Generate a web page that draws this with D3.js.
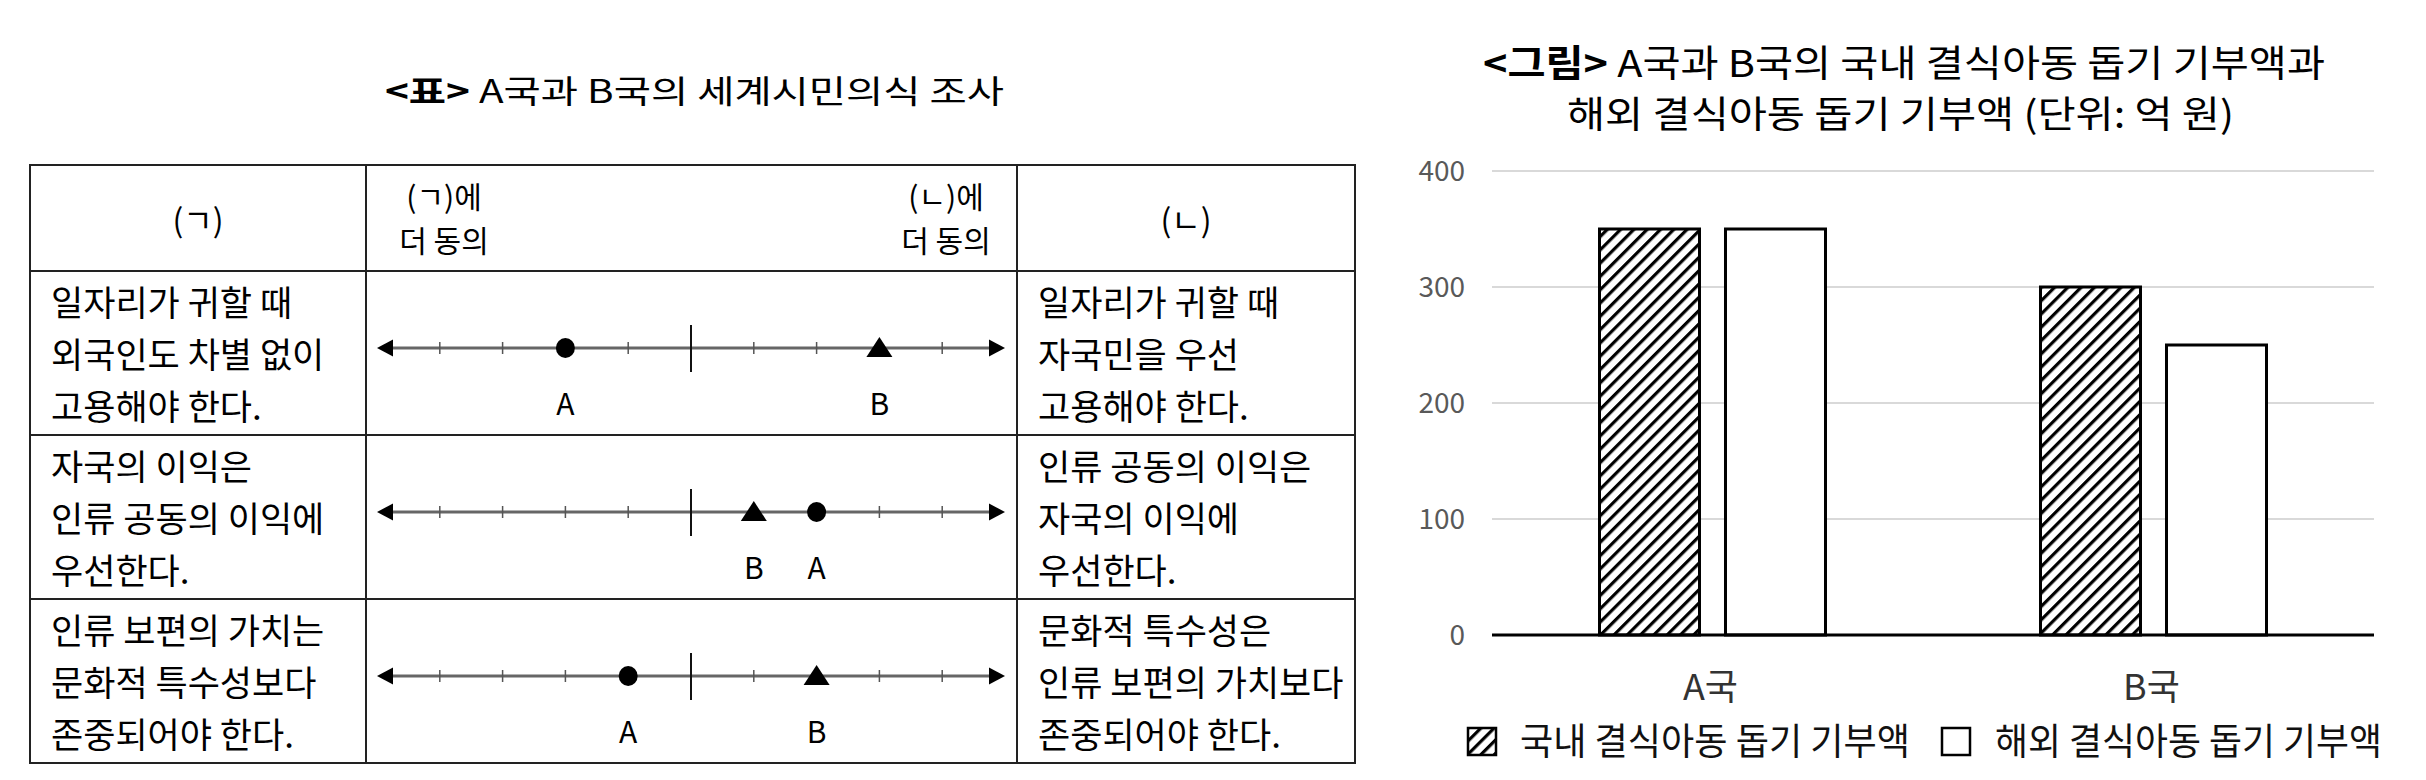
<!DOCTYPE html>
<html>
<head>
<meta charset="utf-8">
<script src="https://cdn.jsdelivr.net/npm/d3@7"></script>
<style>
  html, body { margin: 0; padding: 0; background: #fff; }
  svg { display: block; }
  text { font-family: "Noto Sans CJK KR", "Noto Sans", sans-serif; }
</style>
</head>
<body>
<svg id="chart" width="2426" height="780"></svg>
<script>
// ---------------- DATA ----------------
// Table (left)
const leftStatements = [
  ["일자리가 귀할 때", "외국인도 차별 없이", "고용해야 한다."],
  ["자국의 이익은", "인류 공동의 이익에", "우선한다."],
  ["인류 보편의 가치는", "문화적 특수성보다", "존중되어야 한다."]
];
const rightStatements = [
  ["일자리가 귀할 때", "자국민을 우선", "고용해야 한다."],
  ["인류 공동의 이익은", "자국의 이익에", "우선한다."],
  ["문화적 특수성은", "인류 보편의 가치보다", "존중되어야 한다."]
];
const posA = [-2, 2, -1];   // circle (A국)
const posB = [3, 1, 2];     // triangle (B국)
const scaleTicks = [-4, -3, -2, -1, 1, 2, 3, 4];

// Bar chart (right)
const countries = ["A국", "B국"];
const seriesNames = ["국내 결식아동 돕기 기부액", "해외 결식아동 돕기 기부액"];
const domestic = [350, 300];
const overseas = [350, 250];
const yTicks = [0, 100, 200, 300, 400];

// ---------------- DRAW ----------------
const svg = d3.select("#chart");

// ===== LEFT: table =====
const title1 = svg.append("text")
  .attr("x", 385).attr("y", 103)
  .attr("font-size", 32).attr("fill", "#000")
  .attr("textLength", 619).attr("lengthAdjust", "spacingAndGlyphs");
title1.append("tspan").attr("font-weight", "bold").text("<표>");
title1.append("tspan").text(" A국과  B국의  세계시민의식  조사");

const tbl = { left: 30, right: 1355, top: 165, headBottom: 271, c1: 366, c2: 1017 };
const rowTops = [271, 435, 599];
const rowH = 164;
const tblBottom = rowTops[2] + rowH;

const g = svg.append("g").attr("stroke", "#222").attr("stroke-width", 2);
[tbl.top, tbl.headBottom, rowTops[1], rowTops[2], tblBottom].forEach(y => {
  g.append("line").attr("x1", tbl.left - 1).attr("x2", tbl.right + 1).attr("y1", y).attr("y2", y);
});
[tbl.left, tbl.c1, tbl.c2, tbl.right].forEach(x => {
  g.append("line").attr("x1", x).attr("x2", x).attr("y1", tbl.top).attr("y2", tblBottom);
});

// header texts
const hdr = svg.append("g").attr("fill", "#000").attr("text-anchor", "middle");
hdr.append("text").attr("font-size", 32).attr("x", (tbl.left + tbl.c1) / 2).attr("y", 232).text("(ㄱ)");
hdr.append("text").attr("font-size", 32).attr("x", (tbl.c2 + tbl.right) / 2).attr("y", 232).text("(ㄴ)");
[[444, "(ㄱ)에"], [946, "(ㄴ)에"]].forEach(([cx, first]) => {
  hdr.append("text").attr("font-size", 30).attr("x", cx).attr("y", 208).text(first);
  hdr.append("text").attr("font-size", 30).attr("x", cx).attr("y", 252).text("더 동의");
});

// statements
const lineOffsets = [45, 97, 149];
rowTops.forEach((top, i) => {
  [[51, leftStatements[i]], [1038, rightStatements[i]]].forEach(([tx, lines]) => {
    const t = svg.append("text").attr("font-size", 35).attr("fill", "#000");
    lines.forEach((s, j) => {
      t.append("tspan").attr("x", tx).attr("y", top + lineOffsets[j]).text(s);
    });
  });
});

// number lines
const xNL = d3.scaleLinear().domain([-5, 5]).range([377, 1005]);
rowTops.forEach((top, i) => {
  const yL = top + 77;
  const nl = svg.append("g");
  nl.append("line").attr("x1", xNL(-5) + 8).attr("x2", xNL(5) - 8)
    .attr("y1", yL).attr("y2", yL).attr("stroke", "#666").attr("stroke-width", 3);
  nl.append("path").attr("fill", "#000")
    .attr("d", `M${xNL(-5)},${yL} L${xNL(-5) + 16},${yL - 8.5} L${xNL(-5) + 16},${yL + 8.5} Z`);
  nl.append("path").attr("fill", "#000")
    .attr("d", `M${xNL(5)},${yL} L${xNL(5) - 16},${yL - 8.5} L${xNL(5) - 16},${yL + 8.5} Z`);
  scaleTicks.forEach(t => {
    nl.append("line").attr("x1", xNL(t)).attr("x2", xNL(t))
      .attr("y1", yL - 6).attr("y2", yL + 6).attr("stroke", "#555").attr("stroke-width", 1.5);
  });
  nl.append("line").attr("x1", xNL(0)).attr("x2", xNL(0))
    .attr("y1", yL - 23).attr("y2", yL + 24).attr("stroke", "#111").attr("stroke-width", 2);
  const xa = xNL(posA[i]), xb = xNL(posB[i]);
  nl.append("ellipse").attr("cx", xa).attr("cy", yL).attr("rx", 9.5).attr("ry", 10).attr("fill", "#000");
  nl.append("path").attr("fill", "#000")
    .attr("d", `M${xb},${yL - 11} L${xb + 13},${yL + 9} L${xb - 13},${yL + 9} Z`);
  nl.append("text").attr("x", xa).attr("y", yL + 67).attr("text-anchor", "middle")
    .attr("font-size", 30).attr("fill", "#000").text("A");
  nl.append("text").attr("x", xb).attr("y", yL + 67).attr("text-anchor", "middle")
    .attr("font-size", 30).attr("fill", "#000").text("B");
});

// ===== RIGHT: bar chart =====
const t2a = svg.append("text").attr("x", 1483).attr("y", 77)
  .attr("font-size", 37).attr("fill", "#000")
  .attr("textLength", 842).attr("lengthAdjust", "spacingAndGlyphs");
t2a.append("tspan").attr("font-weight", "bold").text("<그림>");
t2a.append("tspan").text(" A국과  B국의  국내  결식아동  돕기  기부액과");
svg.append("text").attr("x", 1567).attr("y", 128)
  .attr("font-size", 37).attr("fill", "#000")
  .attr("textLength", 667).attr("lengthAdjust", "spacingAndGlyphs")
  .text("해외  결식아동  돕기  기부액  (단위:  억  원)");

// hatch pattern
const defs = svg.append("defs");
const pat = defs.append("pattern").attr("id", "hatch")
  .attr("patternUnits", "userSpaceOnUse").attr("width", 9.4).attr("height", 9.4)
  .attr("patternTransform", "rotate(45)");
pat.append("rect").attr("width", 9.4).attr("height", 9.4).attr("fill", "#fff");
pat.append("rect").attr("x", 0).attr("y", 0).attr("width", 3.2).attr("height", 9.4).attr("fill", "#000");

const plot = { left: 1492, right: 2374, top: 171, bottom: 635 };
const y = d3.scaleLinear().domain([0, 400]).range([plot.bottom, plot.top]);
const x0 = d3.scaleBand().domain(countries).range([plot.left, plot.right]);
const groupW = 226;
const x1 = d3.scaleBand().domain(seriesNames).range([0, groupW]).paddingInner(0.2063);

svg.append("g").selectAll("line").data(yTicks.filter(d => d > 0)).join("line")
  .attr("x1", plot.left).attr("x2", plot.right)
  .attr("y1", d => y(d)).attr("y2", d => y(d))
  .attr("stroke", "#d9d9d9").attr("stroke-width", 2);

svg.append("g").selectAll("text").data(yTicks).join("text")
  .attr("x", 1465).attr("y", d => y(d)).attr("dy", "0.36em")
  .attr("text-anchor", "end").attr("font-size", 28).attr("fill", "#595959")
  .text(d => d);

const barData = [];
countries.forEach((c, i) => {
  barData.push({ c, s: seriesNames[0], v: domestic[i] });
  barData.push({ c, s: seriesNames[1], v: overseas[i] });
});
svg.append("g").selectAll("rect").data(barData).join("rect")
  .attr("x", d => x0(d.c) + (x0.bandwidth() - groupW) / 2 + x1(d.s))
  .attr("y", d => y(d.v))
  .attr("width", x1.bandwidth())
  .attr("height", d => y(0) - y(d.v))
  .attr("fill", d => d.s === seriesNames[0] ? "url(#hatch)" : "#fff")
  .attr("stroke", "#000").attr("stroke-width", 3);

svg.append("line").attr("x1", plot.left).attr("x2", plot.right)
  .attr("y1", y(0)).attr("y2", y(0)).attr("stroke", "#000").attr("stroke-width", 3);

svg.append("g").selectAll("text").data(countries).join("text")
  .attr("x", d => x0(d) + x0.bandwidth() / 2 - 2).attr("y", 700)
  .attr("text-anchor", "middle").attr("font-size", 36).attr("fill", "#333")
  .text(d => d);

const legendItems = [
  { name: seriesNames[0], fill: "url(#hatch)", sx: 1468, tx: 1520, tl: 390 },
  { name: seriesNames[1], fill: "#fff", sx: 1942, tx: 1995, tl: 387 }
];
legendItems.forEach(li => {
  svg.append("rect").attr("x", li.sx).attr("y", 728).attr("width", 28).attr("height", 27)
    .attr("fill", li.fill).attr("stroke", "#000").attr("stroke-width", 2.5);
  svg.append("text").attr("x", li.tx).attr("y", 755)
    .attr("font-size", 37).attr("fill", "#111")
    .attr("textLength", li.tl).attr("lengthAdjust", "spacingAndGlyphs")
    .text(li.name);
});
</script>
</body>
</html>
